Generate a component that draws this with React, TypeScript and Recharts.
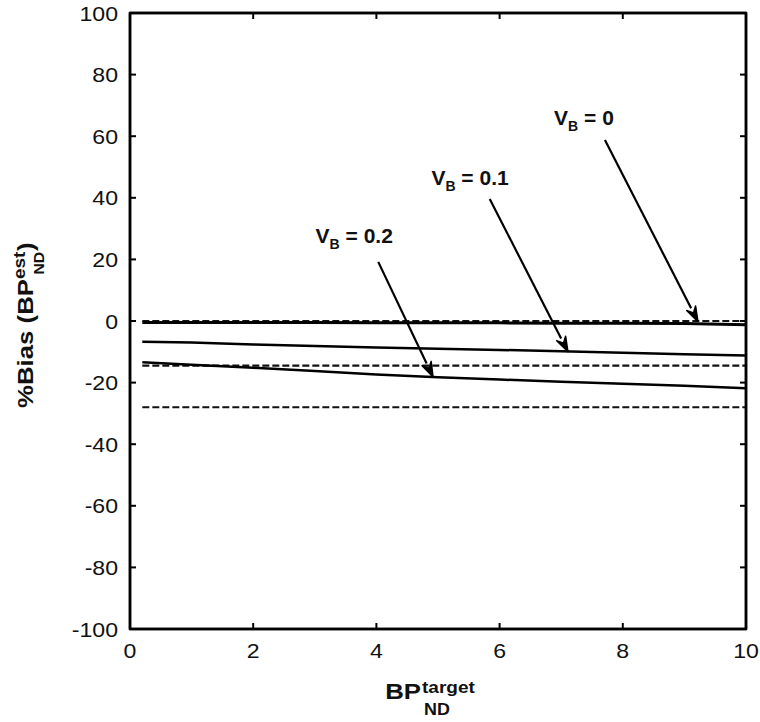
import {
  LineChart,
  Line,
  XAxis,
  YAxis,
  ReferenceLine,
  ReferenceDot,
  ReferenceArea,
} from "recharts";

const FONT = "'Liberation Sans', Arial, Helvetica, sans-serif";

// axis ticks
const xTicks = [0, 2, 4, 6, 8, 10];
const yTicks = [-100, -80, -60, -40, -20, 0, 20, 40, 60, 80, 100];

// simulated curves (% bias vs BP target)
const bpTarget = [0.2, 1, 2, 3, 4, 5, 6, 7, 8, 9, 10];
const biasVb0 = [-0.5, -0.5, -0.5, -0.5, -0.6, -0.6, -0.6, -0.7, -0.7, -0.8, -1.2];
const biasVb01 = [-6.7, -7.0, -7.6, -8.1, -8.6, -9.0, -9.4, -9.8, -10.3, -10.8, -11.2];
const biasVb02 = [-13.4, -14.2, -15.2, -16.2, -17.4, -18.3, -19.0, -19.7, -20.4, -21.0, -21.8];

// dashed reference levels
const refVb0 = [0, 0, 0, 0, 0, 0, 0, 0, 0, 0, 0];
const refVb01 = [-14.5, -14.5, -14.5, -14.5, -14.5, -14.5, -14.5, -14.5, -14.5, -14.5, -14.5];
const refVb02 = [-28, -28, -28, -28, -28, -28, -28, -28, -28, -28, -28];

// annotations: V_B labels with arrows pointing at each curve
const vbValues = ["0", "0.1", "0.2"];
const labelX = [7.37, 5.52, 3.64];
const labelY = [63.6, 44.2, 25.3];
const arrowStartX = [7.71, 5.84, 4.03];
const arrowStartY = [58.8, 39.6, 19.2];
const arrowEndX = [9.22, 7.11, 4.92];
const arrowEndY = [-0.2, -10.0, -18.2];

const rows = bpTarget.map((x, i) => ({
  x,
  vb0: biasVb0[i],
  vb01: biasVb01[i],
  vb02: biasVb02[i],
  ref0: refVb0[i],
  ref01: refVb01[i],
  ref02: refVb02[i],
}));

const LEFT_MARGIN = 12;
const BOTTOM_MARGIN = 14;
const TICK_LEN = 6;
const STRETCH = 1.1; // the original figure text is a bit wide

function LeftTick(props: any) {
  const { x, y, payload } = props;
  const axisX = x + LEFT_MARGIN;
  return (
    <g>
      <text
        transform={`translate(${x},${y}) scale(${STRETCH},1)`}
        dy="0.36em"
        textAnchor="end"
        fontSize={21}
        fontFamily={FONT}
        fill="#111"
      >
        {payload.value}
      </text>
      <line x1={axisX} x2={axisX + TICK_LEN} y1={y} y2={y} stroke="#000" strokeWidth={2} />
    </g>
  );
}

function BottomTick(props: any) {
  const { x, y, payload } = props;
  const axisY = y - BOTTOM_MARGIN;
  return (
    <g>
      <text
        transform={`translate(${x},${y}) scale(${STRETCH},1)`}
        dy="0.72em"
        textAnchor="middle"
        fontSize={21}
        fontFamily={FONT}
        fill="#111"
      >
        {payload.value}
      </text>
      <line x1={x} x2={x} y1={axisY} y2={axisY - TICK_LEN} stroke="#000" strokeWidth={2} />
    </g>
  );
}

function TopTick(props: any) {
  const { x, y } = props;
  return <line x1={x} x2={x} y1={y} y2={y + TICK_LEN} stroke="#000" strokeWidth={2} />;
}

function RightTick(props: any) {
  const { x, y } = props;
  return <line x1={x} x2={x - TICK_LEN} y1={y} y2={y} stroke="#000" strokeWidth={2} />;
}

function XTitle(props: any) {
  const { viewBox } = props;
  const cx = viewBox.x + viewBox.width / 2;
  const by = viewBox.y + 70;
  return (
    <g fontFamily={FONT} fontWeight="bold" fill="#111">
      <text transform={`translate(${cx - 17},${by}) scale(1.12,1)`} textAnchor="end" fontSize={23}>BP</text>
      <text transform={`translate(${cx - 16},${by - 6}) scale(1.12,1)`} textAnchor="start" fontSize={17}>target</text>
      <text transform={`translate(${cx - 14},${by + 16}) scale(1.12,1)`} textAnchor="start" fontSize={16}>ND</text>
    </g>
  );
}

function YTitle(props: any) {
  const { viewBox } = props;
  const cy = viewBox.y + viewBox.height / 2 + 4;
  return (
    <g transform={`translate(33, ${cy}) rotate(-90)`} fontFamily={FONT} fontWeight="bold" fill="#111">
      <g transform="scale(1.12,1)">
        <text x={-74} y={0} textAnchor="start" fontSize={23}>%Bias (BP</text>
        <text x={41} y={-8} textAnchor="start" fontSize={17}>est</text>
        <text x={45} y={11} textAnchor="start" fontSize={14}>ND</text>
        <text x={66} y={0} textAnchor="start" fontSize={23}>)</text>
      </g>
    </g>
  );
}

function Arrow(props: any) {
  const { x1, y1, x2, y2 } = props;
  const ang = Math.atan2(y2 - y1, x2 - x1);
  const len = 15;
  const half = 5;
  const bx = x2 - len * Math.cos(ang);
  const by = y2 - len * Math.sin(ang);
  const px = -Math.sin(ang) * half;
  const py = Math.cos(ang) * half;
  return (
    <g>
      <line x1={x1} y1={y1} x2={bx} y2={by} stroke="#000" strokeWidth={2.2} />
      <polygon
        points={`${x2},${y2} ${bx + px},${by + py} ${bx + 0.35 * (x2 - bx)},${by + 0.35 * (y2 - by)} ${bx - px},${by - py}`}
        fill="#000"
        stroke="#000"
        strokeWidth={1.5}
        strokeLinejoin="round"
      />
    </g>
  );
}

function VbLabel(value: string) {
  return (props: any) => {
    const { cx, cy } = props;
    return (
      <text x={cx} y={cy} textAnchor="middle" fontFamily={FONT} fontWeight="bold" fontSize={21} fill="#111">
        V
        <tspan fontSize={14} dy={6}>B</tspan>
        <tspan dy={-6}>{` = ${value}`}</tspan>
      </text>
    );
  };
}

export default function App() {
  return (
    <div style={{ position: "absolute", left: 0, top: 0, background: "#fff" }}>
      <LineChart
        width={760}
        height={722}
        data={rows}
        margin={{ top: 12, right: 13, bottom: 0, left: 0 }}
      >
        <XAxis
          dataKey="x"
          type="number"
          domain={[0, 10]}
          ticks={xTicks}
          height={93}
          tickSize={0}
          tickMargin={BOTTOM_MARGIN}
          tickLine={false}
          axisLine={{ stroke: "#000", strokeWidth: 2.5 }}
          tick={<BottomTick />}
          interval={0}
          label={<XTitle />}
        />
        <XAxis
          xAxisId="top"
          orientation="top"
          dataKey="x"
          type="number"
          domain={[0, 10]}
          ticks={xTicks}
          height={1}
          tickSize={0}
          tickMargin={0}
          tickLine={false}
          axisLine={{ stroke: "#000", strokeWidth: 2.5 }}
          tick={<TopTick />}
          interval={0}
        />
        <YAxis
          type="number"
          domain={[-100, 100]}
          ticks={yTicks}
          width={130}
          tickSize={0}
          tickMargin={LEFT_MARGIN}
          tickLine={false}
          axisLine={{ stroke: "#000", strokeWidth: 2.5 }}
          tick={<LeftTick />}
          interval={0}
          label={<YTitle />}
        />
        <YAxis
          yAxisId="right"
          orientation="right"
          type="number"
          domain={[-100, 100]}
          ticks={yTicks}
          width={1}
          tickSize={0}
          tickMargin={0}
          tickLine={false}
          axisLine={{ stroke: "#000", strokeWidth: 2.5 }}
          tick={<RightTick />}
          interval={0}
        />

        <ReferenceArea x1={0} x2={10} y1={-100} y2={100} fill="none" stroke="#000" strokeWidth={2.5} />

        {/* invisible series so the top/right frame axes get drawn */}
        <Line
          xAxisId="top"
          yAxisId="right"
          dataKey="ref0"
          stroke="none"
          dot={false}
          activeDot={false}
          isAnimationActive={false}
        />

        <Line dataKey="ref0" stroke="#111" strokeWidth={2.2} strokeDasharray="7 3" dot={false} isAnimationActive={false} />
        <Line dataKey="ref01" stroke="#111" strokeWidth={2.2} strokeDasharray="7 3" dot={false} isAnimationActive={false} />
        <Line dataKey="ref02" stroke="#111" strokeWidth={2.2} strokeDasharray="7 3" dot={false} isAnimationActive={false} />
        <Line dataKey="vb0" stroke="#000" strokeWidth={3} dot={false} isAnimationActive={false} />
        <Line dataKey="vb01" stroke="#000" strokeWidth={2.5} dot={false} isAnimationActive={false} />
        <Line dataKey="vb02" stroke="#000" strokeWidth={2.5} dot={false} isAnimationActive={false} />

        {vbValues.map((v, i) => (
          <ReferenceLine
            key={`arrow-${v}`}
            segment={[
              { x: arrowStartX[i], y: arrowStartY[i] },
              { x: arrowEndX[i], y: arrowEndY[i] },
            ]}
            shape={<Arrow />}
          />
        ))}
        {vbValues.map((v, i) => (
          <ReferenceDot
            key={`label-${v}`}
            x={labelX[i]}
            y={labelY[i]}
            r={0}
            shape={VbLabel(v)}
          />
        ))}
      </LineChart>
    </div>
  );
}
